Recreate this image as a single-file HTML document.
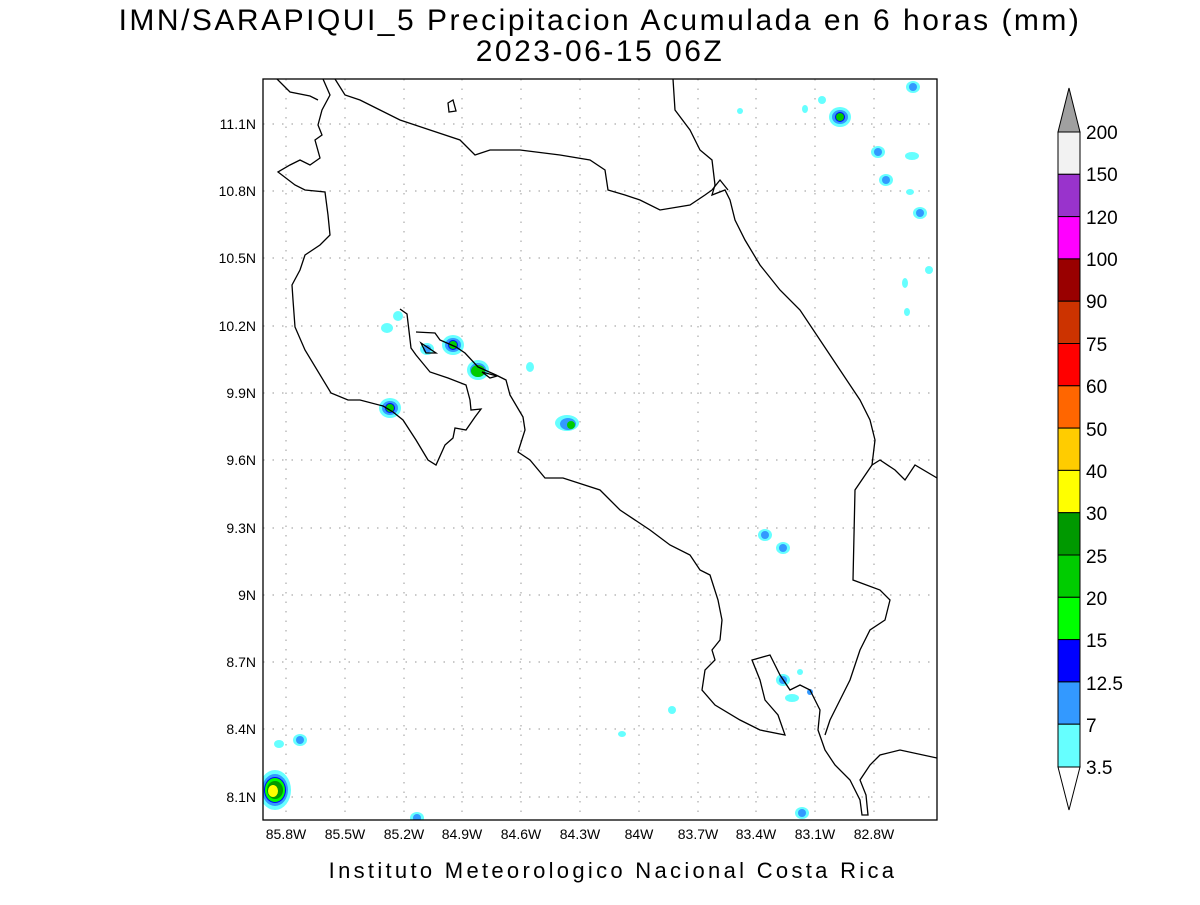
<!DOCTYPE html>
<html><head><meta charset="utf-8"><style>
html,body{margin:0;padding:0;background:#fff;}
svg text{font-family:"Liberation Sans",sans-serif;fill:#000;}
</style></head><body>
<svg width="1200" height="900" viewBox="0 0 1200 900" xmlns="http://www.w3.org/2000/svg">
<rect width="1200" height="900" fill="#fff"/>
<text x="600" y="30" font-size="30" text-anchor="middle" letter-spacing="2.5">IMN/SARAPIQUI_5 Precipitacion Acumulada en 6 horas (mm)</text>
<text x="600" y="61" font-size="30" text-anchor="middle" letter-spacing="2.5">2023-06-15 06Z</text>

<defs>
<clipPath id="c"><rect x="263" y="79" width="674" height="741"/></clipPath>
<g id="b1"><ellipse rx="7" ry="6" fill="#66ffff"/><ellipse rx="4" ry="4" fill="#3399ff"/></g>
<g id="b2"><ellipse rx="11" ry="10" fill="#66ffff"/><ellipse rx="8" ry="7" fill="#3399ff"/><ellipse rx="5" ry="5" fill="#0000ff"/><ellipse rx="4" ry="4" fill="#00cc00"/></g>
</defs>

<g stroke="#aaa" stroke-width="1.2" stroke-dasharray="1.5,8" fill="none">
<path d="M286 79V820M345 79V820M404 79V820M462 79V820M521 79V820M580 79V820M639 79V820M698 79V820M756 79V820M815 79V820M874 79V820"/>
<path d="M263 124H937M263 191H937M263 258H937M263 326H937M263 393H937M263 460H937M263 528H937M263 595H937M263 662H937M263 729H937M263 797H937"/>
</g>

<g clip-path="url(#c)">
<ellipse cx="275" cy="790" rx="16" ry="20" fill="#66ffff"/>
<ellipse cx="275" cy="790" rx="13" ry="16" fill="#3399ff"/>
<ellipse cx="275" cy="790" rx="11" ry="13" fill="#0000ff"/>
<ellipse cx="275" cy="790" rx="10" ry="12" fill="#00ff00"/>
<ellipse cx="275" cy="790" rx="8" ry="9" fill="#009900"/>
<ellipse cx="273" cy="791" rx="5" ry="6" fill="#ffff00"/>
<use href="#b2" x="453" y="345"/>
<use href="#b2" x="478" y="370"/><ellipse cx="478" cy="371" rx="7" ry="6" fill="#00cc00"/>
<use href="#b2" x="390" y="408"/>
<use href="#b2" x="840" y="117"/>
<ellipse cx="567" cy="423" rx="12" ry="8" fill="#66ffff"/><ellipse cx="568" cy="424" rx="8" ry="6" fill="#3399ff"/><ellipse cx="571" cy="425" rx="4" ry="4" fill="#00cc00"/>
<use href="#b1" x="878" y="152"/>
<use href="#b1" x="886" y="180"/>
<use href="#b1" x="920" y="213"/>
<use href="#b1" x="913" y="87"/>
<use href="#b1" x="783" y="680"/>
<use href="#b1" x="765" y="535"/>
<use href="#b1" x="783" y="548"/>
<use href="#b1" x="417" y="818"/>
<use href="#b1" x="300" y="740"/>
<use href="#b1" x="802" y="813"/>
<use href="#b1" x="427" y="349"/>
<ellipse cx="672" cy="710" rx="4" ry="4" fill="#66ffff"/>
<ellipse cx="387" cy="328" rx="6" ry="5" fill="#66ffff"/>
<ellipse cx="398" cy="316" rx="5" ry="5" fill="#66ffff"/>
<ellipse cx="530" cy="367" rx="4" ry="5" fill="#66ffff"/>
<ellipse cx="279" cy="744" rx="5" ry="4" fill="#66ffff"/>
<ellipse cx="905" cy="283" rx="3" ry="5" fill="#66ffff"/>
<ellipse cx="907" cy="312" rx="3" ry="4" fill="#66ffff"/>
<ellipse cx="929" cy="270" rx="4" ry="4" fill="#66ffff"/>
<ellipse cx="912" cy="156" rx="7" ry="4" fill="#66ffff"/>
<ellipse cx="910" cy="192" rx="4" ry="3" fill="#66ffff"/>
<ellipse cx="740" cy="111" rx="3" ry="3" fill="#66ffff"/>
<ellipse cx="805" cy="109" rx="3" ry="4" fill="#66ffff"/>
<ellipse cx="822" cy="100" rx="4" ry="4" fill="#66ffff"/>
<ellipse cx="792" cy="698" rx="7" ry="4" fill="#66ffff"/>
<ellipse cx="622" cy="734" rx="4" ry="3" fill="#66ffff"/>
<ellipse cx="800" cy="672" rx="3" ry="3" fill="#66ffff"/>
<ellipse cx="810" cy="692" rx="3" ry="3" fill="#3399ff"/>

<g fill="none" stroke="#000" stroke-width="1.3">
<path d="M323 79L330 95L322 110L318 125L322 135L315 140L320 158L310 165L300 160L290 165L278 172L295 185L305 190L325 192L328 215L330 235L320 245L305 255L300 270L292 285L293 300L295 327L305 350L331 393L348 400L360 400L383 406L393 412L403 420L416 440L428 460L436 465L445 445L453 438L455 428L466 430L475 417L481 409L471 410L470 400L466 385L448 378L430 372L416 355L411 348L407 314L400 309"/>
<path d="M416 332L435 333L440 340L456 347L465 353L478 367L496 375L506 380L510 395L523 417L525 430L518 452L530 460L545 478L563 478L600 490L620 510L650 530L670 545L690 555L700 570L710 575L718 600L722 620L720 640L712 650L715 660L705 670L702 690L715 705L740 720L760 730L785 735L778 715L765 700L760 680L752 660L770 655L780 675L790 690L800 685L810 690L815 700L820 710L818 730L825 750L835 765L850 780L860 800L862 815L868 815L866 795L860 780L870 765L880 755L900 750L937 758"/>
<path d="M482 372L497 376L490 378Z"/>
<path d="M421 343L436 353L426 353Z"/>
<path d="M673 79L675 110L690 130L700 150L712 160L715 185L712 195L725 190L730 200L735 220L745 240L760 265L780 290L800 310L820 340L840 370L860 400L870 420L875 440L872 465L880 460L895 470L905 480L915 465L937 478"/>
<path d="M872 465L855 490L853 580L880 590L890 600L885 620L870 630L860 650L850 680L840 700L830 720L825 735"/>
<path d="M335 79L345 95L360 100L380 110L400 120L430 130L460 140L475 155L490 150L520 150L560 155L590 160L605 170L608 190L625 195L640 200L660 210L690 205L705 195L712 190"/>
<path d="M277 79L290 92L310 96L318 100"/>
<path d="M448 103L453 100L456 111L449 112Z"/>
<path d="M712 190L720 180L728 190"/>
</g>
</g>
<rect x="263" y="79" width="674" height="741" fill="none" stroke="#000" stroke-width="1.3"/>

<g font-size="14" text-anchor="end">
<text x="256" y="129">11.1N</text><text x="256" y="196">10.8N</text><text x="256" y="263">10.5N</text><text x="256" y="331">10.2N</text><text x="256" y="398">9.9N</text><text x="256" y="465">9.6N</text><text x="256" y="533">9.3N</text><text x="256" y="600">9N</text><text x="256" y="667">8.7N</text><text x="256" y="734">8.4N</text><text x="256" y="802">8.1N</text>
</g>
<g font-size="14" text-anchor="middle">
<text x="286" y="839">85.8W</text><text x="345" y="839">85.5W</text><text x="404" y="839">85.2W</text><text x="462" y="839">84.9W</text><text x="521" y="839">84.6W</text><text x="580" y="839">84.3W</text><text x="639" y="839">84W</text><text x="698" y="839">83.7W</text><text x="756" y="839">83.4W</text><text x="815" y="839">83.1W</text><text x="874" y="839">82.8W</text>
</g>
<text x="613" y="878" font-size="22" text-anchor="middle" letter-spacing="3.3" fill="#333">Instituto Meteorologico Nacional Costa Rica</text>

<g stroke="#000" stroke-width="1">
<path d="M1058 132L1069 88L1080 132Z" fill="#a0a0a0"/>
<rect x="1058" y="132" width="22" height="42.3" fill="#f2f2f2"/>
<rect x="1058" y="174.3" width="22" height="42.3" fill="#9933cc"/>
<rect x="1058" y="216.6" width="22" height="42.3" fill="#ff00ff"/>
<rect x="1058" y="258.9" width="22" height="42.3" fill="#990000"/>
<rect x="1058" y="301.2" width="22" height="42.3" fill="#cc3300"/>
<rect x="1058" y="343.5" width="22" height="42.3" fill="#ff0000"/>
<rect x="1058" y="385.8" width="22" height="42.3" fill="#ff6600"/>
<rect x="1058" y="428.1" width="22" height="42.3" fill="#ffcc00"/>
<rect x="1058" y="470.4" width="22" height="42.3" fill="#ffff00"/>
<rect x="1058" y="512.7" width="22" height="42.3" fill="#009900"/>
<rect x="1058" y="555" width="22" height="42.3" fill="#00cc00"/>
<rect x="1058" y="597.3" width="22" height="42.3" fill="#00ff00"/>
<rect x="1058" y="639.6" width="22" height="42.3" fill="#0000ff"/>
<rect x="1058" y="681.9" width="22" height="42.3" fill="#3399ff"/>
<rect x="1058" y="724.2" width="22" height="42.8" fill="#66ffff"/>
<path d="M1058 767L1069 810L1080 767Z" fill="#fff"/>
</g>
<g font-size="19">
<text x="1086" y="139">200</text><text x="1086" y="181">150</text><text x="1086" y="224">120</text><text x="1086" y="266">100</text><text x="1086" y="308">90</text><text x="1086" y="351">75</text><text x="1086" y="393">60</text><text x="1086" y="436">50</text><text x="1086" y="478">40</text><text x="1086" y="520">30</text><text x="1086" y="563">25</text><text x="1086" y="605">20</text><text x="1086" y="647">15</text><text x="1086" y="690">12.5</text><text x="1086" y="732">7</text><text x="1086" y="774">3.5</text>
</g>
</svg>
</body></html>
